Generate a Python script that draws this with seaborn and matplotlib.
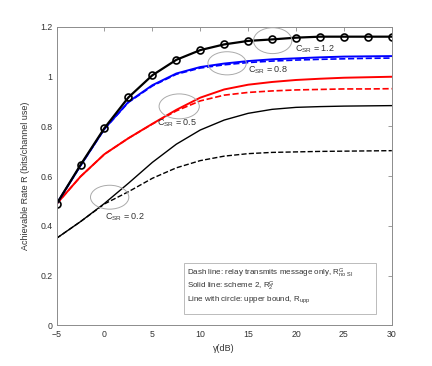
import matplotlib
matplotlib.use("Agg")
import matplotlib.pyplot as plt
from matplotlib.patches import Ellipse
import pandas as pd
import seaborn as sns

# SNR grid (dB)
gamma_db = [-5, -2.5, 0, 2.5, 5, 7.5, 10, 12.5, 15, 17.5, 20, 22.5, 25, 27.5, 30]

# upper bound (line with circles)
r_upper = [0.488, 0.645, 0.793, 0.916, 1.005, 1.067, 1.106, 1.129, 1.143, 1.149, 1.156, 1.16, 1.16, 1.16, 1.16]

# C_SR = 0.8 (blue)
r08_scheme2 = [0.488, 0.642, 0.79, 0.898, 0.965, 1.012, 1.038, 1.052, 1.062, 1.069, 1.073, 1.077, 1.08, 1.081, 1.082]
r08_nosi = [0.488, 0.642, 0.789, 0.896, 0.962, 1.009, 1.034, 1.047, 1.056, 1.062, 1.066, 1.069, 1.071, 1.073, 1.074]

# C_SR = 0.5 (red)
r05_scheme2 = [0.488, 0.598, 0.688, 0.752, 0.81, 0.866, 0.915, 0.948, 0.967, 0.978, 0.986, 0.991, 0.995, 0.997, 0.999]
r05_nosi = [0.488, 0.598, 0.688, 0.752, 0.809, 0.862, 0.902, 0.925, 0.936, 0.942, 0.946, 0.948, 0.95, 0.95, 0.951]

# C_SR = 0.2 (black, thin)
r02_scheme2 = [0.35, 0.417, 0.49, 0.571, 0.655, 0.728, 0.785, 0.825, 0.852, 0.868, 0.876, 0.879, 0.881, 0.882, 0.883]
r02_nosi = [0.35, 0.417, 0.488, 0.537, 0.591, 0.633, 0.662, 0.68, 0.69, 0.695, 0.697, 0.699, 0.7, 0.701, 0.702]

ellipse_labels = ["C$_\\mathrm{SR}$ = 0.2", "C$_\\mathrm{SR}$ = 0.5", "C$_\\mathrm{SR}$ = 0.8", "C$_\\mathrm{SR}$ = 1.2"]

sns.set_style("white")
plt.rcParams["font.family"] = ["Liberation Sans", "DejaVu Sans"]
plt.rcParams["mathtext.fontset"] = "custom"
plt.rcParams["mathtext.rm"] = "Liberation Sans"
plt.rcParams["mathtext.it"] = "Liberation Sans:italic"

txt_col = "#333333"
edge_col = "#8c8c8c"

fig = plt.figure(figsize=(4.32, 3.66), dpi=100)
ax = fig.add_axes([0.131, 0.111, 0.776, 0.816])

df = pd.DataFrame({"gamma": gamma_db})

sns.lineplot(x=df["gamma"], y=r02_nosi, ax=ax, color="black", lw=1.0, linestyle="--")
sns.lineplot(x=df["gamma"], y=r02_scheme2, ax=ax, color="black", lw=1.0)
sns.lineplot(x=df["gamma"], y=r05_nosi, ax=ax, color="red", lw=1.2, linestyle="--")
sns.lineplot(x=df["gamma"], y=r05_scheme2, ax=ax, color="red", lw=1.4)
sns.lineplot(x=df["gamma"], y=r08_nosi, ax=ax, color="blue", lw=1.2, linestyle="--")
sns.lineplot(x=df["gamma"], y=r08_scheme2, ax=ax, color="blue", lw=1.4)
sns.lineplot(x=df["gamma"], y=r_upper, ax=ax, color="black", lw=1.6,
             marker="o", markersize=5, markerfacecolor="none", markeredgecolor="black", markeredgewidth=1.2)

# gray ellipses marking each C_SR group
ell_params = [(0.54, 0.515, 4.0, 0.096), (7.8, 0.88, 4.2, 0.1),
              (12.8, 1.053, 4.0, 0.093), (17.56, 1.144, 4.0, 0.104)]
lbl_pos = [(0.1, 0.433), (5.5, 0.812), (15.0, 1.026), (19.9, 1.11)]
for (cx, cy, w, h), (tx, ty), lbl in zip(ell_params, lbl_pos, ellipse_labels):
    ax.add_patch(Ellipse((cx, cy), w, h, fill=False, edgecolor="#aaaaaa", lw=0.7, zorder=5))
    ax.text(tx, ty, lbl, fontsize=6.5, color=txt_col, va="center", ha="left")

# annotation box
ax.add_patch(plt.Rectangle((8.3, 0.046), 20.0, 0.205, fill=True, facecolor="white",
                           edgecolor="#bbbbbb", lw=0.7, zorder=6))
box_lines = ["Dash line: relay transmits message only, R$^\\mathrm{G}_\\mathrm{no\\ SI}$",
             "Solid line: scheme 2, R$^\\mathrm{G}_\\mathrm{2}$",
             "Line with circle: upper bound, R$_\\mathrm{upp}$"]
box_y = [0.199, 0.148, 0.100]
for s, by in zip(box_lines, box_y):
    ax.text(8.6, by, s, fontsize=5.8, color=txt_col, va="baseline", ha="left", zorder=7)

ax.set_xlim(-5, 30)
ax.set_ylim(0, 1.2)
ax.set_xticks([-5, 0, 5, 10, 15, 20, 25, 30])
ax.set_yticks([0, 0.2, 0.4, 0.6, 0.8, 1.0, 1.2])
ax.set_yticklabels(["0", "0.2", "0.4", "0.6", "0.8", "1", "1.2"])
ax.tick_params(direction="in", length=3, width=0.6, labelsize=6.3, colors=edge_col,
               labelcolor=txt_col, top=True, right=True, pad=3)
for sp in ax.spines.values():
    sp.set_color(edge_col)
    sp.set_linewidth(0.7)

ax.set_xlabel("γ(dB)", fontsize=6.5, color=txt_col, labelpad=4)
ax.set_ylabel("Achievable Rate R (bits/channel use)", fontsize=6.5, color=txt_col, labelpad=7)

fig.savefig("out.png", dpi=100)
